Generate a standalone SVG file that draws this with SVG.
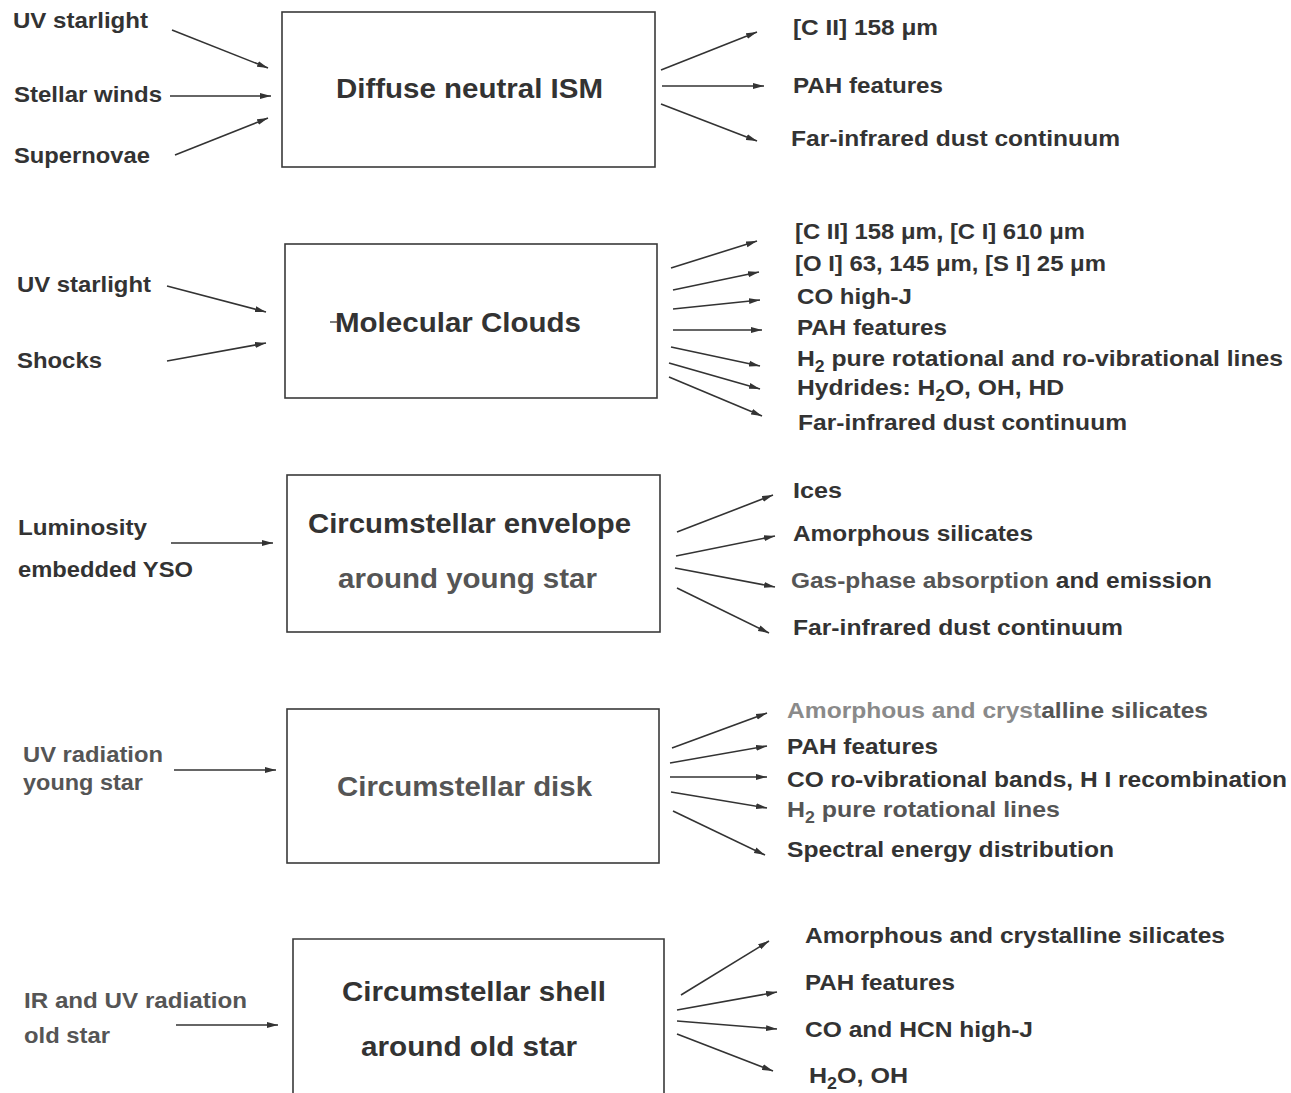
<svg xmlns="http://www.w3.org/2000/svg" width="1291" height="1093" viewBox="0 0 1291 1093">
<style>
  text { font-family: "Liberation Sans", Arial, Helvetica, sans-serif; font-weight: bold; fill: #333; }
  .lbl { font-size: 22.5px; }
  .ttl { font-size: 27.5px; }
  .lt { fill: #555; }
  .box { fill: none; stroke: #3a3a3a; stroke-width: 1.6; }
  .c line { stroke: #333; stroke-width: 1.6; marker-end: url(#ah); }
  .sub { font-size: 16px; }
</style>
<defs>
  <marker id="ah" markerUnits="userSpaceOnUse" markerWidth="11" markerHeight="7" refX="11" refY="3.5" orient="auto">
    <path d="M0,0.5 L11,3.5 L0,6.5 z" fill="#333"/>
  </marker>
</defs>
<rect width="1291" height="1093" fill="#fff"/>

<g id="node-diffuse">
  <rect class="box" x="282" y="12" width="373" height="155"/>
  <text class="ttl" x="336" y="98" textLength="267" lengthAdjust="spacingAndGlyphs">Diffuse neutral ISM</text>
</g>
<g id="node-molecular">
  <rect class="box" x="285" y="244" width="372" height="154"/>
  <line x1="330" y1="322" x2="337" y2="322" stroke="#444" stroke-width="1.4"/>
  <text class="ttl" x="335" y="332" textLength="246" lengthAdjust="spacingAndGlyphs">Molecular Clouds</text>
</g>
<g id="node-envelope">
  <rect class="box" x="287" y="475" width="373" height="157"/>
  <text class="ttl" x="308" y="533" textLength="323" lengthAdjust="spacingAndGlyphs">Circumstellar envelope</text>
  <text class="ttl lt" x="338" y="588" textLength="259" lengthAdjust="spacingAndGlyphs">around young star</text>
</g>
<g id="node-disk">
  <rect class="box" x="287" y="709" width="372" height="154"/>
  <text class="ttl lt" x="337" y="796" textLength="255" lengthAdjust="spacingAndGlyphs">Circumstellar disk</text>
</g>
<g id="node-shell">
  <path class="box" d="M293,1100 L293,939 L664,939 L664,1100"/>
  <text class="ttl" x="342" y="1001" textLength="264" lengthAdjust="spacingAndGlyphs">Circumstellar shell</text>
  <text class="ttl" x="361" y="1056" textLength="216" lengthAdjust="spacingAndGlyphs">around old star</text>
</g>

<g id="inputs">
  <text class="lbl" x="13" y="28" textLength="135" lengthAdjust="spacingAndGlyphs">UV starlight</text>
  <text class="lbl" x="14" y="102" textLength="148" lengthAdjust="spacingAndGlyphs">Stellar winds</text>
  <text class="lbl" x="14" y="163" textLength="136" lengthAdjust="spacingAndGlyphs">Supernovae</text>
  <text class="lbl" x="17" y="292" textLength="134" lengthAdjust="spacingAndGlyphs">UV starlight</text>
  <text class="lbl" x="17" y="368" textLength="85" lengthAdjust="spacingAndGlyphs">Shocks</text>
  <text class="lbl" x="18" y="535" textLength="129" lengthAdjust="spacingAndGlyphs">Luminosity</text>
  <text class="lbl" x="18" y="577" textLength="175" lengthAdjust="spacingAndGlyphs">embedded YSO</text>
  <text class="lbl lt" x="23" y="762" textLength="140" lengthAdjust="spacingAndGlyphs">UV radiation</text>
  <text class="lbl lt" x="23" y="790" textLength="120" lengthAdjust="spacingAndGlyphs">young star</text>
  <text class="lbl lt" x="24" y="1008" textLength="223" lengthAdjust="spacingAndGlyphs">IR and UV radiation</text>
  <text class="lbl lt" x="24" y="1043" textLength="86" lengthAdjust="spacingAndGlyphs">old star</text>
</g>

<g id="outputs">
  <text class="lbl" x="793" y="35" textLength="145" lengthAdjust="spacingAndGlyphs">[C II] 158 μm</text>
  <text class="lbl" x="793" y="93" textLength="150" lengthAdjust="spacingAndGlyphs">PAH features</text>
  <text class="lbl" x="791" y="146" textLength="329" lengthAdjust="spacingAndGlyphs">Far-infrared dust continuum</text>

  <text class="lbl" x="795" y="239" textLength="290" lengthAdjust="spacingAndGlyphs">[C II] 158 μm, [C I] 610 μm</text>
  <text class="lbl" x="795" y="271" textLength="311" lengthAdjust="spacingAndGlyphs">[O I] 63, 145 μm, [S I] 25 μm</text>
  <text class="lbl" x="797" y="304" textLength="115" lengthAdjust="spacingAndGlyphs">CO high-J</text>
  <text class="lbl" x="797" y="335" textLength="150" lengthAdjust="spacingAndGlyphs">PAH features</text>
  <text class="lbl" x="797" y="366" textLength="486" lengthAdjust="spacingAndGlyphs">H<tspan class="sub" dy="6">2</tspan><tspan dy="-6"> pure rotational and ro-vibrational lines</tspan></text>
  <text class="lbl" x="797" y="395" textLength="267" lengthAdjust="spacingAndGlyphs">Hydrides: H<tspan class="sub" dy="6">2</tspan><tspan dy="-6">O, OH, HD</tspan></text>
  <text class="lbl" x="798" y="430" textLength="329" lengthAdjust="spacingAndGlyphs">Far-infrared dust continuum</text>

  <text class="lbl" x="793" y="498" textLength="49" lengthAdjust="spacingAndGlyphs">Ices</text>
  <text class="lbl" x="793" y="541" textLength="240" lengthAdjust="spacingAndGlyphs">Amorphous silicates</text>
  <text class="lbl" x="791" y="588" textLength="421" lengthAdjust="spacingAndGlyphs"><tspan class="lt">Gas-phase absorption</tspan> and emission</text>
  <text class="lbl" x="793" y="635" textLength="330" lengthAdjust="spacingAndGlyphs">Far-infrared dust continuum</text>

  <text class="lbl" x="787" y="718" textLength="421" lengthAdjust="spacingAndGlyphs"><tspan fill="#8a8a8a">Amorphous and cryst</tspan><tspan class="lt">alline silicates</tspan></text>
  <text class="lbl" x="787" y="754" textLength="151" lengthAdjust="spacingAndGlyphs">PAH features</text>
  <text class="lbl" x="787" y="787" textLength="500" lengthAdjust="spacingAndGlyphs">CO ro-vibrational bands, H I recombination</text>
  <text class="lbl lt" x="787" y="817" textLength="273" lengthAdjust="spacingAndGlyphs">H<tspan class="sub" dy="6">2</tspan><tspan dy="-6"> pure rotational lines</tspan></text>
  <text class="lbl" x="787" y="857" textLength="327" lengthAdjust="spacingAndGlyphs">Spectral energy distribution</text>

  <text class="lbl" x="805" y="943" textLength="420" lengthAdjust="spacingAndGlyphs">Amorphous and crystalline silicates</text>
  <text class="lbl" x="805" y="990" textLength="150" lengthAdjust="spacingAndGlyphs">PAH features</text>
  <text class="lbl" x="805" y="1037" textLength="228" lengthAdjust="spacingAndGlyphs">CO and HCN high-J</text>
  <text class="lbl" x="809" y="1083" textLength="99" lengthAdjust="spacingAndGlyphs">H<tspan class="sub" dy="6">2</tspan><tspan dy="-6">O, OH</tspan></text>
</g>

<g id="connectors" class="c">
  <line x1="172" y1="30" x2="268" y2="68"/>
  <line x1="170" y1="96" x2="271" y2="96"/>
  <line x1="175" y1="155" x2="268" y2="118"/>
  <line x1="661" y1="70" x2="757" y2="32"/>
  <line x1="662" y1="86" x2="764" y2="86"/>
  <line x1="661" y1="104" x2="757" y2="141"/>

  <line x1="167" y1="286" x2="266" y2="312"/>
  <line x1="167" y1="361" x2="266" y2="343"/>
  <line x1="671" y1="268" x2="757" y2="241"/>
  <line x1="673" y1="290" x2="759" y2="272"/>
  <line x1="673" y1="309" x2="760" y2="300"/>
  <line x1="673" y1="330" x2="762" y2="330"/>
  <line x1="671" y1="347" x2="760" y2="366"/>
  <line x1="669" y1="363" x2="760" y2="389"/>
  <line x1="669" y1="377" x2="762" y2="416"/>

  <line x1="171" y1="543" x2="273" y2="543"/>
  <line x1="677" y1="532" x2="773" y2="495"/>
  <line x1="676" y1="556" x2="775" y2="536"/>
  <line x1="675" y1="568" x2="775" y2="587"/>
  <line x1="677" y1="588" x2="769" y2="633"/>

  <line x1="174" y1="770" x2="276" y2="770"/>
  <line x1="672" y1="748" x2="767" y2="713"/>
  <line x1="670" y1="763" x2="767" y2="746"/>
  <line x1="670" y1="777" x2="767" y2="777"/>
  <line x1="671" y1="792" x2="767" y2="808"/>
  <line x1="673" y1="811" x2="765" y2="855"/>

  <line x1="176" y1="1025" x2="278" y2="1025"/>
  <line x1="681" y1="995" x2="769" y2="941"/>
  <line x1="677" y1="1010" x2="777" y2="992"/>
  <line x1="677" y1="1021" x2="777" y2="1029"/>
  <line x1="677" y1="1034" x2="773" y2="1071"/>
</g>
</svg>
